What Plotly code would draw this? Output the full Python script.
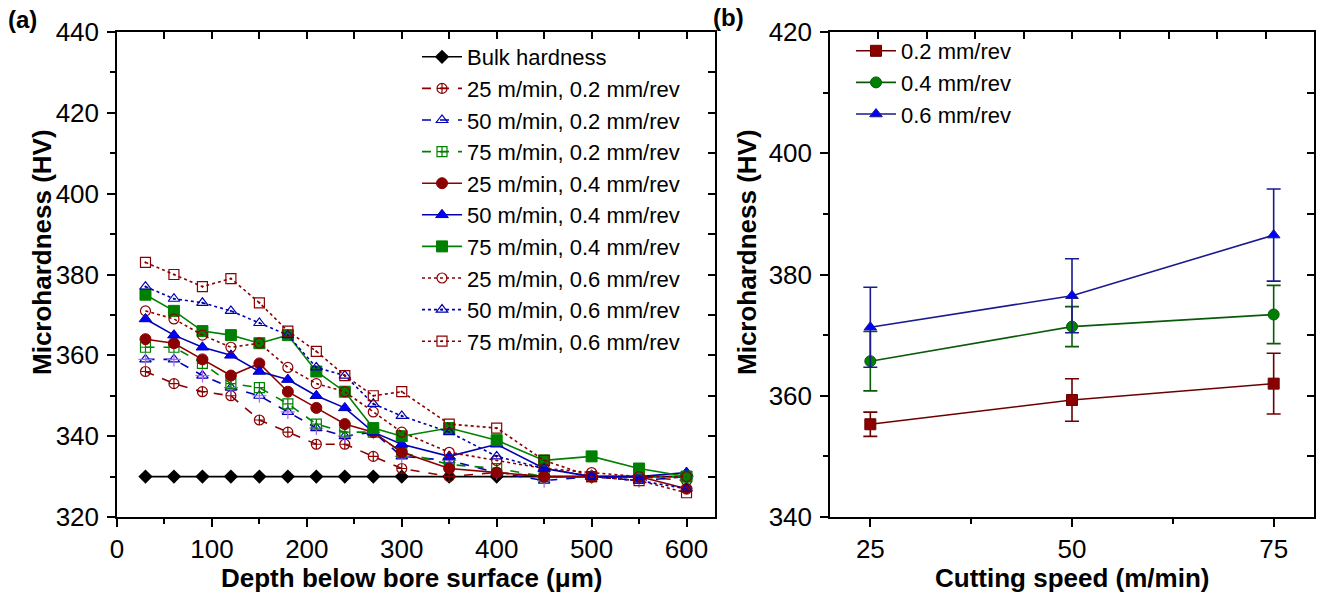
import plotly.graph_objects as go

# ---------------- (a) microhardness profiles vs depth ----------------
depth_um = [30, 60, 90, 120, 150, 180, 210, 240, 270, 300, 350, 400, 450, 500, 550, 600]

bulk_hardness = [330, 330, 330, 330, 330, 330, 330, 330, 330, 330, 330, 330, 330, 330, 330, 330]

hv_25_02 = [356, 353, 351, 350, 344, 341, 338, 338, 335, 332, 330, 331, 330, 330, 330, 329]
hv_50_02 = [359, 359, 355, 352, 350, 346, 342, 340, 341, 335, 334, 331, 329, 330, 329, 330]
hv_75_02 = [362, 362, 358, 353, 352, 348, 343, 341, 341, 336, 333, 332, 330, 330, 330, 330]
hv_25_04 = [364, 363, 359, 355, 358, 351, 347, 343, 341, 336, 332, 331, 330, 330, 330, 327]
hv_50_04 = [369, 365, 362, 360, 356, 354, 350, 347, 341, 338, 335, 338, 332, 330, 330, 331]
hv_75_04 = [375, 371, 366, 365, 363, 365, 356, 351, 342, 340, 342, 339, 334, 335, 332, 330]
hv_25_06 = [371, 369, 365, 362, 363, 357, 353, 351, 346, 341, 336, 334, 332, 331, 330, 330]
hv_50_06 = [377, 374, 373, 371, 368, 365, 357, 355, 348, 345, 341, 335, 332, 330, 329, 327]
hv_75_06 = [383, 380, 377, 379, 373, 366, 361, 355, 350, 351, 343, 342, 334, 330, 329, 326]

# ---------------- (b) mean microhardness vs cutting speed ----------------
cutting_speed = [25, 50, 75]
mean_02 = [355.3, 359.3, 362.0]
err_02 = [2.0, 3.5, 5.0]
mean_04 = [365.7, 371.4, 373.4]
err_04 = [4.9, 3.3, 4.8]
mean_06 = [371.3, 376.5, 386.5]
err_06 = [6.6, 6.1, 7.6]

FONT = "Arial, 'Liberation Sans', sans-serif"
DRED = "#8B0000"
BLUE = "#0000FF"
BLUE_LINE = "#0000B0"
GREEN = "#008000"

fig = go.Figure()

# bulk reference line
fig.add_trace(go.Scatter(
    x=depth_um, y=bulk_hardness, name="Bulk hardness", mode="lines+markers",
    line=dict(color="black", width=1.6),
    marker=dict(symbol="diamond", size=11, color="black"),
    legend="legend", xaxis="x", yaxis="y"))

profile_series = [
    ("25 m/min, 0.2 mm/rev", hv_25_02, DRED, "dash", "circle-cross-open", DRED),
    ("50 m/min, 0.2 mm/rev", hv_50_02, BLUE_LINE, "dash", "triangle-up-open", BLUE_LINE),
    ("75 m/min, 0.2 mm/rev", hv_75_02, GREEN, "dash", "square-cross-open", GREEN),
    ("25 m/min, 0.4 mm/rev", hv_25_04, DRED, "solid", "circle", DRED),
    ("50 m/min, 0.4 mm/rev", hv_50_04, BLUE_LINE, "solid", "triangle-up", BLUE),
    ("75 m/min, 0.4 mm/rev", hv_75_04, GREEN, "solid", "square", GREEN),
    ("25 m/min, 0.6 mm/rev", hv_25_06, DRED, "dot", "circle-open", DRED),
    ("50 m/min, 0.6 mm/rev", hv_50_06, BLUE_LINE, "dot", "triangle-up-open-dot", BLUE_LINE),
    ("75 m/min, 0.6 mm/rev", hv_75_06, DRED, "dot", "square-open-dot", DRED),
]

for name, vals, lcol, dash, sym, mcol in profile_series:
    filled = not sym.endswith(("open", "open-dot"))
    marker = dict(symbol=sym, size=11 if filled else 10, color=mcol,
                  line=dict(color=mcol, width=1.2))
    if filled:
        marker["line"] = dict(color=lcol, width=1)
    fig.add_trace(go.Scatter(
        x=depth_um, y=vals, name=name, mode="lines+markers",
        line=dict(color=lcol, width=1.6, dash=dash),
        marker=marker, legend="legend", xaxis="x", yaxis="y"))
    if name.startswith("50 m/min, 0.2"):
        # cross drawn through the open triangles of this series
        fig.add_trace(go.Scatter(
            x=depth_um, y=vals, mode="markers", showlegend=False, hoverinfo="skip",
            marker=dict(symbol="cross-thin-open", size=10,
                        line=dict(color=mcol, width=1.2)),
            xaxis="x", yaxis="y"))

speed_series = [
    ("0.2 mm/rev", mean_02, err_02, DRED, "#6B0000", "square"),
    ("0.4 mm/rev", mean_04, err_04, GREEN, "#0A5A0A", "circle"),
    ("0.6 mm/rev", mean_06, err_06, BLUE, "#1A1A90", "triangle-up"),
]
for name, vals, errs, mcol, lcol, sym in speed_series:
    fig.add_trace(go.Scatter(
        x=cutting_speed, y=vals, name=name, mode="lines+markers",
        line=dict(color=lcol, width=1.6),
        marker=dict(symbol=sym, size=11, color=mcol, line=dict(color=lcol, width=1)),
        error_y=dict(type="data", array=errs, visible=True, color=lcol,
                     thickness=1.6, width=7),
        legend="legend2", xaxis="x2", yaxis="y2"))

# empty traces so the top/right tick axes of both panels get drawn
for xa, ya in (("x3", "y3"), ("x4", "y4")):
    fig.add_trace(go.Scatter(x=[], y=[], mode="markers", showlegend=False,
                             hoverinfo="skip", xaxis=xa, yaxis=ya))

axis_common = dict(
    showline=True, mirror=True, linecolor="black", linewidth=1.5, showgrid=False,
    zeroline=False, automargin=False,
    ticks="outside", ticklen=8, tickwidth=1.5, tickcolor="black",
    tickfont=dict(family=FONT, size=26, color="black"),
)
mirror_common = dict(
    showline=False, showgrid=False, zeroline=False, automargin=False,
    ticks="inside", ticklen=7, tickwidth=1.5, tickcolor="black",
    showticklabels=False,
)

Y_DOM = [1 - 517 / 594, 1 - 32 / 594]
XA_DOM = [117 / 1320, 715 / 1320]
XB_DOM = [830 / 1320, 1314 / 1320]

fig.update_layout(
    width=1320, height=594,
    margin=dict(l=0, r=0, t=0, b=0, autoexpand=False),
    paper_bgcolor="white", plot_bgcolor="white",
    font=dict(family=FONT, color="black"),
    xaxis=dict(domain=XA_DOM, range=[0, 630], anchor="y", tick0=0, dtick=100,
               minor=dict(dtick=50, tick0=0, ticks="outside", ticklen=5, tickwidth=1.5,
                          tickcolor="black"),
               ticklabelstandoff=0, **axis_common),
    yaxis=dict(domain=Y_DOM, range=[320, 440], anchor="x", tick0=0, dtick=20,
               minor=dict(dtick=10, tick0=0, ticks="outside", ticklen=5, tickwidth=1.5,
                          tickcolor="black"),
               ticklabelstandoff=3, **axis_common),
    xaxis3=dict(overlaying="x", side="top", anchor="y3", range=[0, 630], tick0=0, dtick=50,
                **mirror_common),
    yaxis3=dict(overlaying="y", side="right", anchor="x3", range=[320, 440], tick0=0, dtick=10,
                **mirror_common),
    xaxis2=dict(domain=XB_DOM, range=[20, 80], anchor="y2", tick0=0, dtick=25,
                minor=dict(dtick=12.5, tick0=0, ticks="outside", ticklen=5, tickwidth=1.5,
                           tickcolor="black"),
                ticklabelstandoff=0, **axis_common),
    yaxis2=dict(domain=Y_DOM, range=[340, 420], anchor="x2", tick0=0, dtick=20,
                minor=dict(dtick=10, tick0=0, ticks="outside", ticklen=5, tickwidth=1.5,
                           tickcolor="black"),
                ticklabelstandoff=3, **axis_common),
    xaxis4=dict(overlaying="x2", side="top", anchor="y4", range=[20, 80], tick0=26, dtick=6,
                **mirror_common),
    yaxis4=dict(overlaying="y2", side="right", anchor="x4", range=[340, 420], tick0=0, dtick=10,
                **mirror_common),
    legend=dict(x=417 / 1320, y=1 - 36 / 594, xanchor="left", yanchor="top",
                bgcolor="rgba(0,0,0,0)", borderwidth=0, tracegroupgap=0,
                font=dict(family=FONT, size=22, color="black"), itemwidth=40),
    legend2=dict(x=851 / 1320, y=1 - 30 / 594, xanchor="left", yanchor="top",
                 bgcolor="rgba(0,0,0,0)", borderwidth=0,
                 font=dict(family=FONT, size=22, color="black"), itemwidth=40),
)

title_font = dict(family=FONT, size=26, color="black", weight="bold")
annotations = [
    dict(text="(a)", x=22 / 1320, y=1 - 20 / 594, font=dict(title_font, size=24)),
    dict(text="(b)", x=728 / 1320, y=1 - 18 / 594, font=dict(title_font, size=24)),
    dict(text="Microhardness (HV)", x=42 / 1320, y=1 - 252 / 594, textangle=-90, font=title_font),
    dict(text="Microhardness (HV)", x=747 / 1320, y=1 - 252 / 594, textangle=-90, font=title_font),
    dict(text="Depth below bore surface (\u03bcm)", x=411 / 1320, y=1 - 578 / 594, font=title_font),
    dict(text="Cutting speed (m/min)", x=1072 / 1320, y=1 - 578 / 594, font=title_font),
]
for a in annotations:
    fig.add_annotation(xref="paper", yref="paper", showarrow=False,
                       xanchor="center", yanchor="middle", **a)

fig.write_html("out.html")
